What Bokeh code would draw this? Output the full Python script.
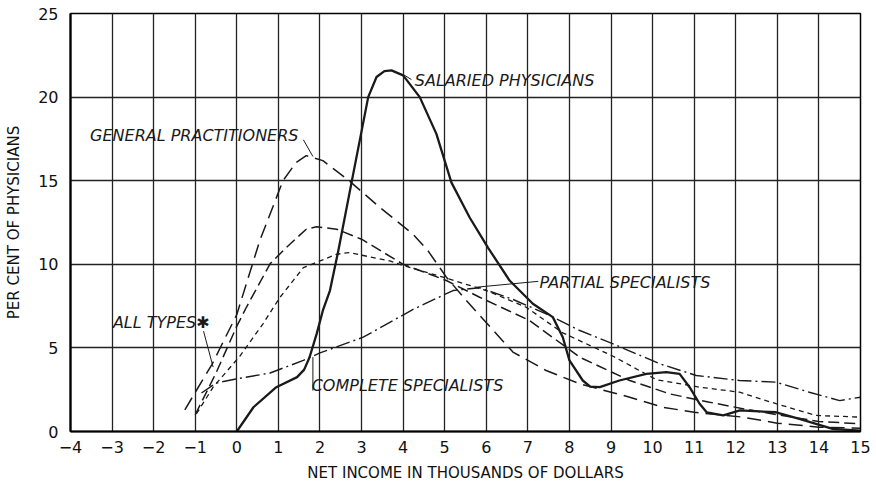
from bokeh.plotting import figure
from bokeh.models import Range1d, FixedTicker
from bokeh.core.properties import value
from bokeh.embed import file_html
from bokeh.resources import INLINE

# ---- data ----
x_ticks = list(range(-4, 16))
y_ticks = [0, 5, 10, 15, 20, 25]

salaried_x = [0, 0.4, 0.95, 1.45, 1.62, 1.75, 1.92, 2.07, 2.24, 2.44, 2.76, 3.16, 3.36, 3.55, 3.72, 4.0, 4.4, 4.8,
              5.16, 5.6, 6.04, 6.56, 7.12, 7.6, 7.84, 8.0, 8.32, 8.5, 8.73, 9.2, 9.85, 10.33, 10.65,
              10.89, 11.13, 11.3, 11.7, 12.1, 12.97, 13.53, 14.33, 15]
salaried_y = [0, 1.45, 2.65, 3.25, 3.7, 4.44, 5.84, 7.24, 8.43, 10.8, 14.9, 20.0, 21.2, 21.55, 21.6, 21.3, 20.0, 17.8,
              14.9, 12.8, 11.0, 9.03, 7.64, 6.84, 5.64, 4.25, 3.05, 2.69, 2.65, 3.05, 3.45, 3.55, 3.45,
              2.65, 1.66, 1.15, 0.96, 1.26, 1.15, 0.76, 0.16, 0.05]

general_x = [-1.25, -0.6, 0.0, 0.55, 1.11, 1.43, 1.67, 2.07, 2.7, 3.44, 4.24, 4.6, 5.04, 5.52, 5.84,
             6.64, 7.44, 8.25, 9.45, 10.25, 11.0, 12.17, 13.0, 14.0, 15]
general_y = [1.3, 4.0, 7.0, 11.4, 15.0, 16.1, 16.5, 16.2, 15.0, 13.4, 11.8, 10.8, 9.23, 7.83, 6.95,
             4.75, 3.65, 2.85, 2.05, 1.45, 1.15, 0.86, 0.5, 0.26, 0.2]

partial_x = [-1.0, -0.5, 0.0, 0.23, 0.8, 1.19, 1.67, 1.92, 2.4, 3.0, 4.0, 5.04, 5.84, 7.04, 8.25,
             9.45, 10.41, 11.37, 12.2, 13.0, 14.0, 15]
partial_y = [1.0, 3.5, 6.3, 7.43, 10.03, 11.0, 12.1, 12.25, 12.1, 11.5, 10.0, 9.03, 8.03, 6.64, 4.44,
             3.05, 2.25, 1.75, 1.35, 1.0, 0.6, 0.46]

alltypes_x = [-0.97, -0.57, 0.07, 0.63, 1.03, 1.6, 2.4, 2.7, 3.68, 4.0, 4.96, 6.0, 6.96, 7.84, 9.05,
              10.09, 11.13, 12.09, 12.97, 13.93, 15]
alltypes_y = [1.06, 2.65, 4.5, 6.44, 8.0, 9.8, 10.6, 10.7, 10.2, 9.93, 9.23, 8.43, 7.43, 5.9, 4.5,
              3.1, 2.65, 2.35, 1.66, 0.96, 0.86]

complete_x = [-0.85, -0.5, 0.0, 0.8, 1.6, 2.0, 3.04, 4.24, 5.2, 5.84, 6.64, 7.44, 8.25, 9.05, 10.17,
              11.05, 12.09, 12.97, 13.77, 14.5, 15]
complete_y = [2.3, 2.9, 3.15, 3.5, 4.25, 4.7, 5.64, 7.3, 8.43, 8.6, 7.9, 7.04, 6.04, 5.24, 4.05,
              3.35, 3.05, 2.95, 2.35, 1.85, 2.05]

label_text = ["GENERAL  PRACTITIONERS", "SALARIED  PHYSICIANS", "ALL  TYPES\u2731",
              "PARTIAL  SPECIALISTS", "COMPLETE  SPECIALISTS"]
label_x = [-3.53, 4.28, -2.98, 7.28, 1.8]
label_y = [17.7, 21.0, 6.54, 8.93, 2.75]

leader_x0 = [1.6, 4.2, -0.8, 7.25, 1.83]
leader_y0 = [17.45, 21.05, 6.0, 8.98, 2.45]
leader_x1 = [1.83, 4.0, -0.57, 5.76, 1.83]
leader_y1 = [16.45, 21.35, 3.85, 8.63, 4.45]

# ---- figure ----
p = figure(width=876, height=490, x_range=Range1d(-4, 15), y_range=Range1d(0, 25),
           output_backend="svg", toolbar_location=None,
           min_border_left=70, min_border_right=16, min_border_top=13, min_border_bottom=59)
p.background_fill_color = "white"
p.border_fill_color = "white"
p.outline_line_color = "black"
p.outline_line_width = 1.5

p.xaxis.ticker = FixedTicker(ticks=x_ticks)
p.yaxis.ticker = FixedTicker(ticks=y_ticks)
p.xgrid.ticker = FixedTicker(ticks=x_ticks)
p.ygrid.ticker = FixedTicker(ticks=y_ticks)
for g in (p.xgrid, p.ygrid):
    g.grid_line_color = "#222222"
    g.grid_line_width = 1.3
    g.grid_line_alpha = 1.0

for ax in (p.xaxis, p.yaxis):
    ax.axis_line_color = "black"
    ax.axis_line_width = 2.2
    ax.major_tick_line_color = None
    ax.minor_tick_line_color = None
    ax.major_label_text_font = "DejaVu Sans"
    ax.major_label_text_font_size = "16px"
    ax.major_label_text_color = "#111111"
    ax.axis_label_text_font = "DejaVu Sans"
    ax.axis_label_text_font_size = "15px"
    ax.axis_label_text_font_style = "normal"
    ax.axis_label_text_color = "#111111"

p.xaxis.axis_label = "NET INCOME IN THOUSANDS OF DOLLARS"
p.yaxis.axis_label = "PER CENT OF PHYSICIANS"
p.xaxis.major_label_standoff = 3
p.yaxis.major_label_standoff = 6
p.xaxis.axis_label_standoff = 8
p.yaxis.axis_label_standoff = 12

ink = "#1a1a1a"
p.line(general_x, general_y, line_color=ink, line_width=1.5, line_dash="14 7")
p.line(partial_x, partial_y, line_color=ink, line_width=1.5, line_dash="11 5")
p.line(alltypes_x, alltypes_y, line_color=ink, line_width=1.3, line_dash="5 4")
p.line(complete_x, complete_y, line_color=ink, line_width=1.4, line_dash="14 4 2 4")
p.line(salaried_x, salaried_y, line_color=ink, line_width=2.3, line_join="round")

p.segment(x0=leader_x0, y0=leader_y0, x1=leader_x1, y1=leader_y1, line_color=ink, line_width=1)

p.text(x=label_x, y=label_y, text=label_text, text_font=value("DejaVu Sans"),
       text_font_size="16px", text_font_style="italic", text_color=ink,
       text_baseline="middle", text_align="left")

open("out.html", "w").write(file_html(p, INLINE))
